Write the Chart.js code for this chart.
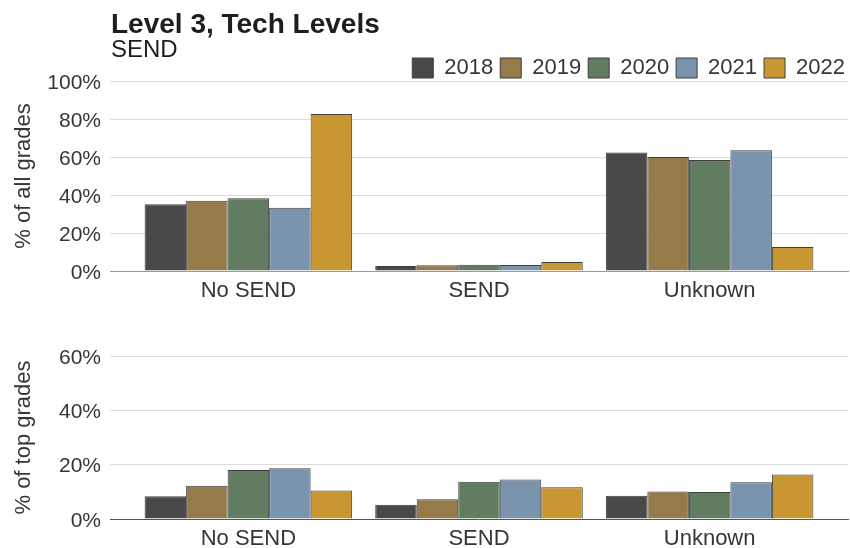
<!DOCTYPE html>
<html>
<head>
<meta charset="utf-8">
<script src="https://cdn.jsdelivr.net/npm/chart.js@4.4.1/dist/chart.umd.min.js"></script>
<style>
html, body { margin: 0; padding: 0; background: #ffffff; }
#wrap { position: relative; width: 850px; height: 548px; overflow: hidden; background: #fff; }
.panel { position: absolute; left: 0; width: 850px; }
</style>
</head>
<body>
<div id="wrap">
  <div class="panel" style="top:0;height:300px"><canvas id="c1" width="850" height="300"></canvas></div>
  <div class="panel" style="top:300px;height:248px"><canvas id="c2" width="850" height="248"></canvas></div>
</div>
<script>
// ---- data ----
const titleText = "Level 3, Tech Levels";
const subtitleText = "SEND";
const categories = ["No SEND", "SEND", "Unknown"];
const years = ["2018", "2019", "2020", "2021", "2022"];
const colors = ["#494949", "#957b4a", "#627c61", "#7a94ae", "#c99732"];

// % of all grades
const allGrades2018 = [35.1, 2.6, 62.4];
const allGrades2019 = [37.0, 3.0, 60.0];
const allGrades2020 = [38.3, 3.3, 58.4];
const allGrades2021 = [33.3, 3.1, 63.6];
const allGrades2022 = [82.6, 4.8, 12.6];

// % of top grades
const topGrades2018 = [8.4, 5.2, 8.6];
const topGrades2019 = [12.2, 7.3, 10.1];
const topGrades2020 = [18.0, 13.7, 9.9];
const topGrades2021 = [18.7, 14.5, 13.5];
const topGrades2022 = [10.5, 11.7, 16.4];

const yTicksTop = [0, 20, 40, 60, 80, 100];
const yTicksBottom = [0, 20, 40, 60];

// ---- styling ----
const FONT = "'Liberation Sans', Arial, Helvetica, sans-serif";
const TEXT = "#363636";
const CAT_PAD = 0.6; // extra space at each end of the category axis

function makeDatasets(series) {
  return years.map((y, i) => ({
    label: y,
    data: series[i],
    backgroundColor: colors[i],
    borderColor: "#3f3f3f",
    borderWidth: 1,
    categoryPercentage: 0.9,
    barPercentage: 1.0
  }));
}

function xScale(lineColor) {
  return {
    type: "category",
    offset: true,
    grid: { display: false, drawTicks: false },
    border: { display: true, color: lineColor, width: 1, z: 1 },
    ticks: { color: TEXT, font: { family: FONT, size: 22 }, padding: 7, maxRotation: 0, autoSkip: false },
    afterBuildTicks(scale) {
      const n = scale.getLabels().length;
      scale._startValue = -CAT_PAD;
      scale._valueRange = (n - 1) + 2 * CAT_PAD;
    },
    afterFit(scale) { scale.height = 29; }
  };
}

function yScale(tickList, title) {
  return {
    min: tickList[0],
    max: tickList[tickList.length - 1],
    afterBuildTicks(scale) { scale.ticks = tickList.map(v => ({ value: v })); },
    ticks: { color: TEXT, font: { family: FONT, size: 21 }, padding: 9, labelOffset: 2, callback: v => v + "%" },
    grid: { color: "#dcdcdc", lineWidth: 1, drawTicks: false },
    border: { display: false },
    title: { display: true, text: title, color: TEXT, font: { family: FONT, size: 22 }, padding: { top: 11, bottom: 0 } },
    afterFit(scale) { scale.width = 110; }
  };
}

const headerPlugin = {
  id: "header",
  afterLayout(chart) {
    const lg = chart.legend;
    if (lg) { lg.top += 8; lg.bottom += 8; lg.right = 852; }
  },
  afterDraw(chart) {
    const ctx = chart.ctx;
    ctx.save();
    ctx.fillStyle = "#1e1e1e";
    ctx.textAlign = "left";
    ctx.textBaseline = "alphabetic";
    ctx.font = "bold 28px " + FONT;
    ctx.fillText(titleText, 111, 33);
    ctx.font = "24px " + FONT;
    ctx.fillText(subtitleText, 111, 57);
    ctx.restore();
  }
};

new Chart(document.getElementById("c1"), {
  type: "bar",
  data: {
    labels: categories,
    datasets: makeDatasets([allGrades2018, allGrades2019, allGrades2020, allGrades2021, allGrades2022])
  },
  options: {
    responsive: false,
    animation: false,
    layout: { padding: { top: 42, left: 0, right: 2, bottom: 0 } },
    plugins: {
      legend: {
        display: true, position: "top", align: "end",
        labels: { boxWidth: 21, boxHeight: 20, padding: 7, color: TEXT, font: { family: FONT, size: 22 } }
      },
      tooltip: { enabled: false },
      title: { display: false }
    },
    scales: {
      x: xScale("#9a9a9a"),
      y: yScale(yTicksTop, "% of all grades")
    }
  },
  plugins: [headerPlugin]
});

new Chart(document.getElementById("c2"), {
  type: "bar",
  data: {
    labels: categories,
    datasets: makeDatasets([topGrades2018, topGrades2019, topGrades2020, topGrades2021, topGrades2022])
  },
  options: {
    responsive: false,
    animation: false,
    layout: { padding: { top: 56, left: 0, right: 2, bottom: 0 } },
    plugins: { legend: { display: false }, tooltip: { enabled: false } },
    scales: {
      x: xScale("#555555"),
      y: yScale(yTicksBottom, "% of top grades")
    }
  }
});
</script>
</body>
</html>
